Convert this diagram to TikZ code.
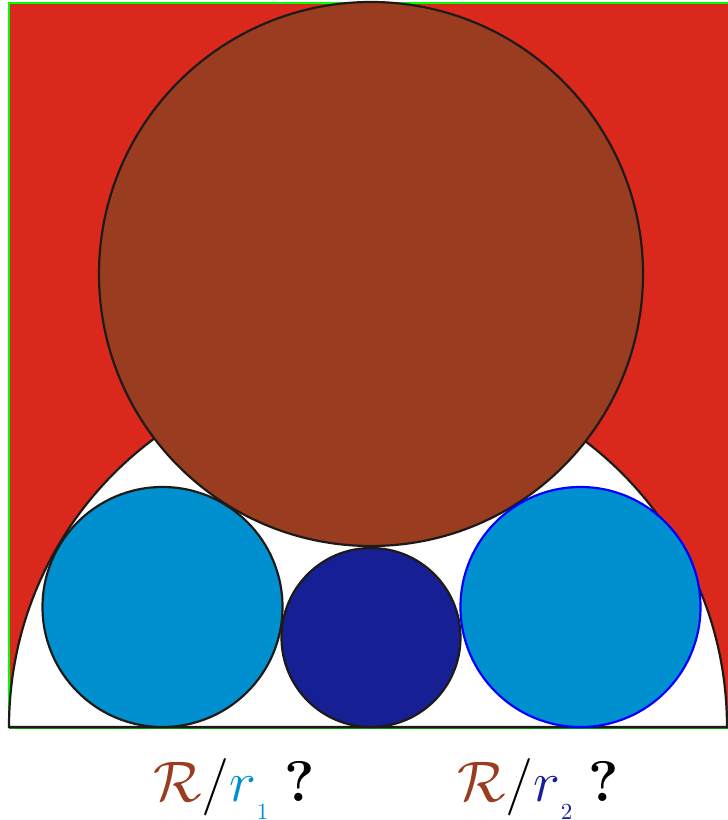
\documentclass[tikz,border=0pt]{standalone}
\usepackage{graphicx}
\usepackage{amsmath}
\definecolor{bgred}{HTML}{DA291C}
\definecolor{brownc}{HTML}{9A3C1F}
\definecolor{lblue}{HTML}{0090CF}
\definecolor{dblue}{HTML}{171F94}
\definecolor{edge}{HTML}{1E1A18}
\tikzset{
  disc/.style={circle, inner sep=0pt, draw=edge, line width=2.2pt},
  lab/.style={inner sep=0pt}
}
\newcommand{\ratiolabel}[2]{\scalebox{2.3}{\Huge$\color{brownc}\mathcal{R}\color{black}/$\textcolor{#1}{$r$\raisebox{-0.3em}{\normalsize$#2$}}\;\textbf{?}}}
\begin{document}
\begin{tikzpicture}[x=1pt,y=-1pt]
\useasboundingbox (0,0) rectangle (728,820);
\fill[white] (0,0) rectangle (728,820);
% red square with green border
\fill[bgred] (9,3) rectangle (740,727);
\draw[green, line width=2.2pt] (9,727) -- (9,3) -- (740,3);
% semicircle
\filldraw[fill=white, draw=edge, line width=2.2pt] (9,727) arc[start angle=180, end angle=360, radius=359] -- cycle;
\draw[green!60!black, line width=0.6pt] (9,728.5) -- (728,728.5);
\draw[edge, line width=2.2pt] (9,727) -- (728,727);
% circles
\node[disc, fill=brownc, minimum size=544pt] (big) at (371,274) {};
\node[disc, fill=lblue, minimum size=240pt] (left) at (162.5,607) {};
\node[disc, fill=lblue, draw=blue, minimum size=240pt] (right) at (580.5,607) {};
\node[disc, fill=dblue, minimum size=179pt] (mid) at (371,637.5) {};
% labels
\node[lab] (l1) at (234,789) {\ratiolabel{lblue}{1}};
\node[lab] (l2) at (538,789) {\ratiolabel{dblue}{2}};
\end{tikzpicture}
\end{document}
